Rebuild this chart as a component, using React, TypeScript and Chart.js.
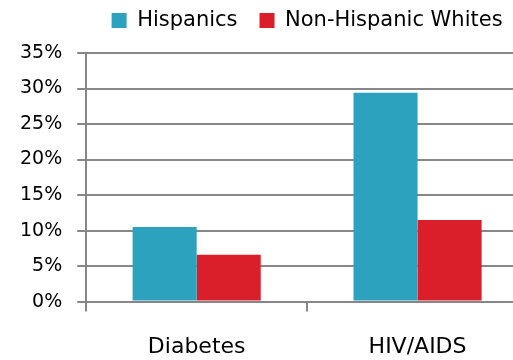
import { useEffect, useRef } from "react";
import { Chart, registerables } from "chart.js";

Chart.register(...registerables);

// Share of each group affected, in percent
const categories = ["Diabetes", "HIV/AIDS"];
const seriesNames = ["Hispanics", "Non-Hispanic Whites"];
const hispanics = [10.5, 29.4];
const nonHispanicWhites = [6.6, 11.5];

// Value axis: 0% to 35% in steps of 5%
const yMin = 0;
const yMax = 35;
const yStep = 5;

const TEAL = "#2ca2bf";
const RED = "#da1f2a";
const GRID = "#878787";
const FONT = "'DejaVu Sans', sans-serif";

export default function App() {
  const canvasRef = useRef<HTMLCanvasElement | null>(null);

  useEffect(() => {
    const canvas = canvasRef.current;
    if (!canvas) return;

    const chart = new Chart(canvas, {
      type: "bar",
      data: {
        labels: categories,
        datasets: [
          {
            label: seriesNames[0],
            data: hispanics,
            backgroundColor: TEAL,
            borderWidth: 0,
            categoryPercentage: 0.58,
            barPercentage: 1,
          },
          {
            label: seriesNames[1],
            data: nonHispanicWhites,
            backgroundColor: RED,
            borderWidth: 0,
            categoryPercentage: 0.58,
            barPercentage: 1,
          },
        ],
      },
      options: {
        responsive: false,
        animation: false,
        devicePixelRatio: 1,
        layout: { padding: { left: 5, right: 12, top: -12, bottom: -22 } },
        plugins: {
          legend: {
            position: "top",
            fullSize: false,
            align: "center",
            labels: {
              boxWidth: 15,
              boxHeight: 15,
              padding: 22,
              color: "#000",
              font: { family: FONT, size: 21 },
            },
          },
          // empty spacer row between the legend and the plot
          subtitle: {
            display: true,
            text: "",
            position: "top",
            fullSize: false,
            weight: 100,
            padding: 0,
            font: { family: FONT, size: 10 },
          },
          tooltip: { enabled: false },
        },
        scales: {
          x: {
            afterFit: (scale: any) => {
              // the category labels sit well inside their bands, no side padding needed
              scale.paddingLeft = 0;
              scale.paddingRight = 0;
            },
            grid: {
              drawOnChartArea: false,
              offset: true,
              color: GRID,
              lineWidth: 2,
              tickLength: 10,
            },
            border: { color: GRID, width: 2 },
            ticks: {
              color: "#000",
              font: { family: FONT, size: 22 },
              padding: 22,
            },
          },
          y: {
            min: yMin,
            max: yMax,
            ticks: {
              stepSize: yStep,
              color: "#000",
              font: { family: FONT, size: 19 },
              padding: 15,
              callback: (v) => `${v}%`,
            },
            grid: { color: GRID, lineWidth: 2, tickLength: 9 },
            border: { color: GRID, width: 2 },
          },
        },
      },
    });

    return () => chart.destroy();
  }, []);

  return (
    <div
      style={{
        position: "fixed",
        left: 0,
        top: 0,
        width: 513,
        height: 360,
        overflow: "hidden",
        background: "#fff",
      }}
    >
      <canvas ref={canvasRef} width={540} height={360} style={{ display: "block" }} />
    </div>
  );
}
